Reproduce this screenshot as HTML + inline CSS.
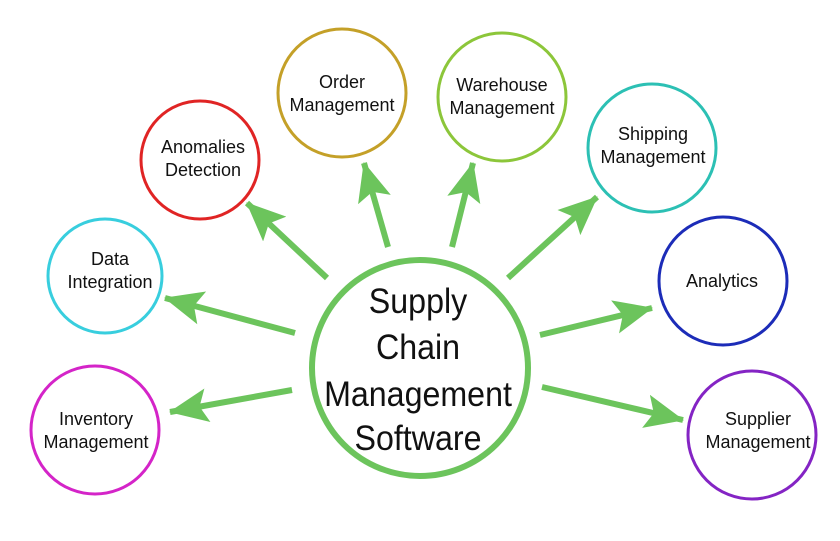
<!DOCTYPE html>
<html><head><style>
html,body{margin:0;padding:0;background:#fff;}
svg{display:block;}
text{font-family:"Liberation Sans",Arial,sans-serif;fill:#111;text-anchor:middle;}
</style></head><body>
<svg width="840" height="541" viewBox="0 0 840 541" xmlns="http://www.w3.org/2000/svg">
<defs>
<marker id="ah" markerWidth="42" markerHeight="36" refX="38" refY="17" orient="auto" markerUnits="userSpaceOnUse">
<path d="M0,0 L39,17 L0,34 L8,17 Z" fill="#6cc45c"/>
</marker>
</defs>
<g stroke="#6cc45c" stroke-width="6" fill="none" marker-end="url(#ah)">
<line x1="388" y1="247" x2="364" y2="163"/>
<line x1="452" y1="247" x2="473" y2="163"/>
<line x1="327" y1="278" x2="247" y2="203"/>
<line x1="508" y1="278" x2="597" y2="197"/>
<line x1="295" y1="333" x2="165" y2="298"/>
<line x1="540" y1="335" x2="652" y2="308"/>
<line x1="292" y1="390" x2="170" y2="412"/>
<line x1="542" y1="387" x2="683" y2="420"/>
</g>
<circle cx="420" cy="368" r="108" fill="none" stroke="#6cc45c" stroke-width="6"/>
<g fill="none">
<circle cx="342" cy="93" r="64" stroke="#c4a028" stroke-width="3"/>
<circle cx="200" cy="160" r="59" stroke="#e02424" stroke-width="3"/>
<circle cx="105" cy="276" r="57" stroke="#38cede" stroke-width="3"/>
<circle cx="95" cy="430" r="64" stroke="#d424c8" stroke-width="3"/>
<circle cx="502" cy="97" r="64" stroke="#8cc63a" stroke-width="3"/>
<circle cx="652" cy="148" r="64" stroke="#2cc0b4" stroke-width="3"/>
<circle cx="723" cy="281" r="64" stroke="#1c2cb8" stroke-width="3"/>
<circle cx="752" cy="435" r="64" stroke="#8424c4" stroke-width="3"/>
</g>
<g font-size="18">
<text x="342" y="88">Order</text><text x="342" y="111">Management</text>
<text x="203" y="153">Anomalies</text><text x="203" y="176">Detection</text>
<text x="110" y="265">Data</text><text x="110" y="288">Integration</text>
<text x="96" y="425">Inventory</text><text x="96" y="448">Management</text>
<text x="502" y="91">Warehouse</text><text x="502" y="114">Management</text>
<text x="653" y="140">Shipping</text><text x="653" y="163">Management</text>
<text x="722" y="287">Analytics</text>
<text x="758" y="425">Supplier</text><text x="758" y="448">Management</text>
</g>
<g font-size="35" transform="translate(418,0) scale(0.92,1)">
<text x="0" y="313">Supply</text>
<text x="0" y="359">Chain</text>
<text x="0" y="406">Management</text>
<text x="0" y="450">Software</text>
</g>
</svg>
</body></html>
